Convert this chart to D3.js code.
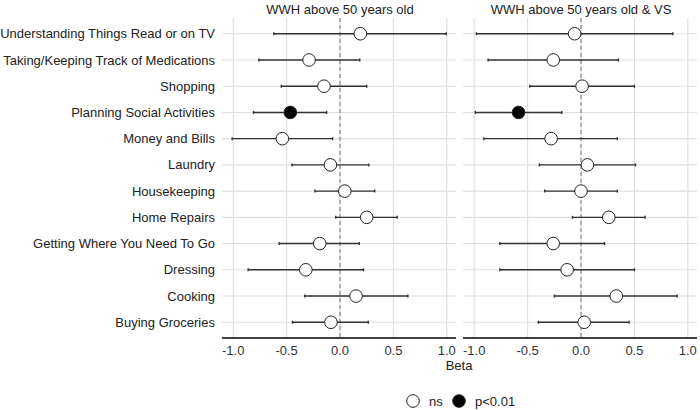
<!DOCTYPE html>
<html>
<head>
<meta charset="utf-8">
<script src="https://cdn.jsdelivr.net/npm/d3@7"></script>
<style>
  body { margin: 0; background: #fff; }
  svg { font-family: "Liberation Sans", Arial, sans-serif; }
</style>
</head>
<body>
<div id="chart"></div>
<script>
// Data
const activities = [
    'Understanding Things Read or on TV',
    'Taking/Keeping Track of Medications',
    'Shopping',
    'Planning Social Activities',
    'Money and Bills',
    'Laundry',
    'Housekeeping',
    'Home Repairs',
    'Getting Where You Need To Go',
    'Dressing',
    'Cooking',
    'Buying Groceries'
];
const panelTitles = ['WWH above 50 years old', 'WWH above 50 years old & VS'];

const betaA  = [0.19, -0.29, -0.15, -0.465, -0.54, -0.09, 0.045, 0.25, -0.19, -0.32, 0.15, -0.085];
const lowerA = [-0.62, -0.76, -0.55, -0.81, -1.01, -0.45, -0.235, -0.04, -0.57, -0.86, -0.33, -0.445];
const upperA = [0.995, 0.185, 0.25, -0.125, -0.07, 0.27, 0.325, 0.535, 0.18, 0.22, 0.635, 0.265];
const sigA   = [0, 0, 0, 1, 0, 0, 0, 0, 0, 0, 0, 0];

const betaB  = [-0.06, -0.26, 0.01, -0.585, -0.28, 0.06, 0.0, 0.26, -0.26, -0.13, 0.33, 0.03];
const lowerB = [-0.98, -0.87, -0.48, -0.99, -0.91, -0.39, -0.34, -0.08, -0.76, -0.76, -0.25, -0.40];
const upperB = [0.86, 0.35, 0.50, -0.18, 0.34, 0.51, 0.34, 0.60, 0.22, 0.50, 0.90, 0.45];
const sigB   = [0, 0, 0, 1, 0, 0, 0, 0, 0, 0, 0, 0];

const xTicks = [-1.0, -0.5, 0.0, 0.5, 1.0];
const legendLabels = ['ns', 'p<0.01'];

const panels = [
    { title: panelTitles[0], beta: betaA, lower: lowerA, upper: upperA, sig: sigA, left: 222 },
    { title: panelTitles[1], beta: betaB, lower: lowerB, upper: upperB, sig: sigB, left: 463 }
];

const width = 700, height = 410;
const panelW = 234;
const plotTop = 18, plotBottom = 338;

const svg = d3.select('#chart')
    .append('svg')
    .attr('width', width)
    .attr('height', height);

// Shared y scale (categories, top to bottom)
const y = d3.scalePoint()
    .domain(activities)
    .range([plotTop, plotBottom])
    .padding(0.6);

// Category labels
svg.append('g')
    .selectAll('text')
    .data(activities)
    .join('text')
    .attr('x', 215)
    .attr('y', d => y(d))
    .attr('dy', '0.35em')
    .attr('text-anchor', 'end')
    .attr('font-size', 13)
    .attr('fill', '#222')
    .text(d => d);

panels.forEach(p => {
    const x = d3.scaleLinear()
        .domain([-1.105, 1.086])
        .range([p.left, p.left + panelW]);

    const g = svg.append('g');

    // Horizontal grid
    g.selectAll('line.hgrid')
        .data(activities)
        .join('line')
        .attr('class', 'hgrid')
        .attr('x1', p.left).attr('x2', p.left + panelW)
        .attr('y1', d => y(d)).attr('y2', d => y(d))
        .attr('stroke', '#dedede')
        .attr('stroke-width', 1.1);

    // Vertical grid
    g.selectAll('line.vgrid')
        .data(xTicks)
        .join('line')
        .attr('class', 'vgrid')
        .attr('x1', d => x(d)).attr('x2', d => x(d))
        .attr('y1', plotTop).attr('y2', plotBottom)
        .attr('stroke', '#dedede')
        .attr('stroke-width', 1.1);

    // Zero reference line
    g.append('line')
        .attr('x1', x(0)).attr('x2', x(0))
        .attr('y1', plotTop).attr('y2', plotBottom)
        .attr('stroke', '#808080')
        .attr('stroke-width', 1.1)
        .attr('stroke-dasharray', '4,3');

    // Error bars
    const rows = activities.map((a, i) => ({
        name: a, beta: p.beta[i], lo: p.lower[i], hi: p.upper[i], sig: p.sig[i]
    }));

    g.selectAll('line.ci')
        .data(rows)
        .join('line')
        .attr('class', 'ci')
        .attr('x1', d => x(d.lo)).attr('x2', d => x(d.hi))
        .attr('y1', d => y(d.name)).attr('y2', d => y(d.name))
        .attr('stroke', '#333')
        .attr('stroke-width', 1.4);

    // Small end caps
    ['lo', 'hi'].forEach(k => {
        g.selectAll('line.cap-' + k)
            .data(rows)
            .join('line')
            .attr('class', 'cap-' + k)
            .attr('x1', d => x(d[k])).attr('x2', d => x(d[k]))
            .attr('y1', d => y(d.name) - 1.5).attr('y2', d => y(d.name) + 1.5)
            .attr('stroke', '#333')
            .attr('stroke-width', 1.4);
    });

    // Points
    g.selectAll('circle')
        .data(rows)
        .join('circle')
        .attr('cx', d => x(d.beta))
        .attr('cy', d => y(d.name))
        .attr('r', 6.3)
        .attr('fill', d => d.sig ? '#000' : '#fff')
        .attr('stroke', '#222')
        .attr('stroke-width', 1);

    // Axis line and tick labels
    g.append('line')
        .attr('x1', p.left).attr('x2', p.left + panelW)
        .attr('y1', plotBottom).attr('y2', plotBottom)
        .attr('stroke', '#000')
        .attr('stroke-width', 1.3);

    g.selectAll('text.tick')
        .data(xTicks)
        .join('text')
        .attr('class', 'tick')
        .attr('x', d => x(d))
        .attr('y', 350)
        .attr('dy', '0.35em')
        .attr('text-anchor', 'middle')
        .attr('font-size', 13)
        .attr('fill', '#333')
        .text(d => d3.format('.1f')(d).replace('−', '-'));

    // Panel title
    g.append('text')
        .attr('x', p.left + panelW / 2 + 1)
        .attr('y', 9)
        .attr('dy', '0.35em')
        .attr('text-anchor', 'middle')
        .attr('font-size', 13)
        .attr('fill', '#222')
        .text(p.title);
});

// Axis title
svg.append('text')
    .attr('x', 459)
    .attr('y', 365)
    .attr('dy', '0.35em')
    .attr('text-anchor', 'middle')
    .attr('font-size', 13)
    .attr('fill', '#222')
    .text('Beta');

// Legend
const legend = svg.append('g');
const legendX = [413, 459];
legendLabels.forEach((lab, i) => {
    legend.append('circle')
        .attr('cx', legendX[i])
        .attr('cy', 401)
        .attr('r', 6.3)
        .attr('fill', i === 1 ? '#000' : '#fff')
        .attr('stroke', '#222')
        .attr('stroke-width', 1);
    legend.append('text')
        .attr('x', legendX[i] + 16)
        .attr('y', 401)
        .attr('dy', '0.35em')
        .attr('font-size', 13)
        .attr('fill', '#222')
        .text(lab);
});
</script>
</body>
</html>
